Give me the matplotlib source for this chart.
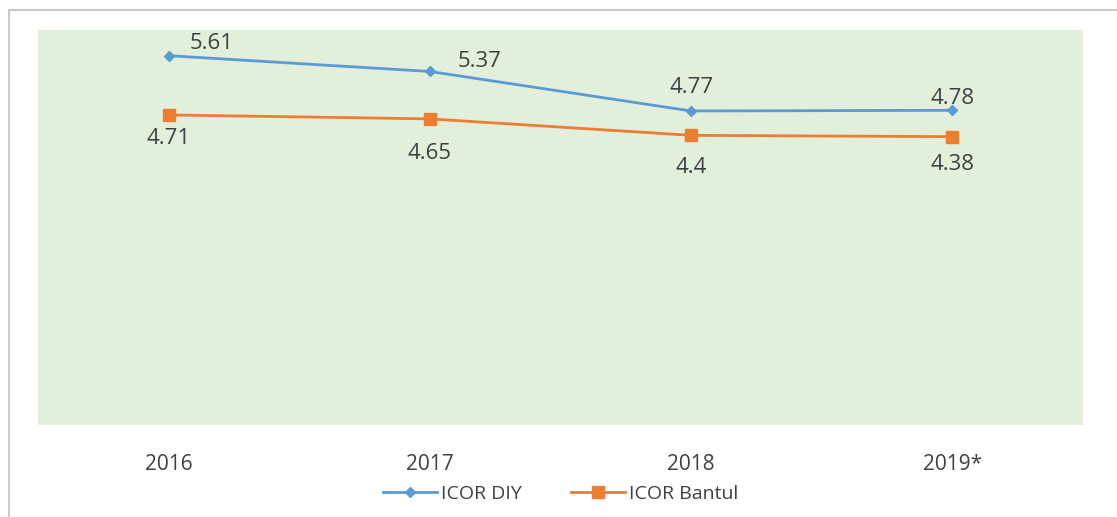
import matplotlib
matplotlib.use('Agg')
import matplotlib.pyplot as plt
from matplotlib.lines import Line2D

tahun = ['2016', '2017', '2018', '2019*']
icor_diy = [5.61, 5.37, 4.77, 4.78]
icor_bantul = [4.71, 4.65, 4.4, 4.38]

# geser label (piksel) relatif ke titik
geser_diy = [(43, 12), (50, 10), (0, 23), (0, 12)]
geser_bantul = [(0, -24), (0, -35), (0, -32), (0, -28)]

plt.rcParams['font.family'] = ['Open Sans', 'DejaVu Sans']

fig = plt.figure(figsize=(11.17, 5.17), dpi=100)
# bingkai luar (atas dan kiri saja)
fig.lines.append(Line2D([8.5 / 1117, 8.5 / 1117, 1.0], [0.0, 1 - 10 / 517, 1 - 10 / 517],
                        transform=fig.transFigure, color='#c8c8c8', linewidth=1.5))
ax = fig.add_axes([38 / 1117, 1 - 425 / 517, 1045 / 1117, 395 / 517])
ax.set_facecolor('#e2efda')

x = list(range(len(tahun)))
ax.plot(x, icor_diy, color='#5b9bd5', linewidth=2, marker='D', markersize=5,
        label='ICOR DIY')
ax.plot(x, icor_bantul, color='#ed7d31', linewidth=2, marker='s', markersize=8,
        label='ICOR Bantul')

for i, v in enumerate(icor_diy):
    dx, dy = geser_diy[i]
    ax.annotate(f'{v:g}', (i, v), xytext=(dx * 0.72, dy * 0.72),
                textcoords='offset points', ha='center', va='center',
                fontsize=16, color='#404040')
for i, v in enumerate(icor_bantul):
    dx, dy = geser_bantul[i]
    ax.annotate(f'{v:g}', (i, v), xytext=(dx * 0.72, dy * 0.72),
                textcoords='offset points', ha='center', va='center',
                fontsize=16, color='#404040')

ax.set_xlim(-0.5, 3.5)
ax.set_ylim(0, 6)
ax.set_xticks(x)
ax.set_xticklabels(tahun, fontsize=15, color='#404040')
ax.tick_params(axis='x', length=0, pad=21)
ax.set_yticks([])
for s in ax.spines.values():
    s.set_visible(False)

ax.legend(loc='center', bbox_to_anchor=(0.5, -0.175), ncol=2, frameon=False,
          fontsize=14, handlelength=2.8, columnspacing=2.5, handletextpad=0.2,
          labelcolor='#404040')

plt.savefig('out.png', dpi=100)
plt.close()
